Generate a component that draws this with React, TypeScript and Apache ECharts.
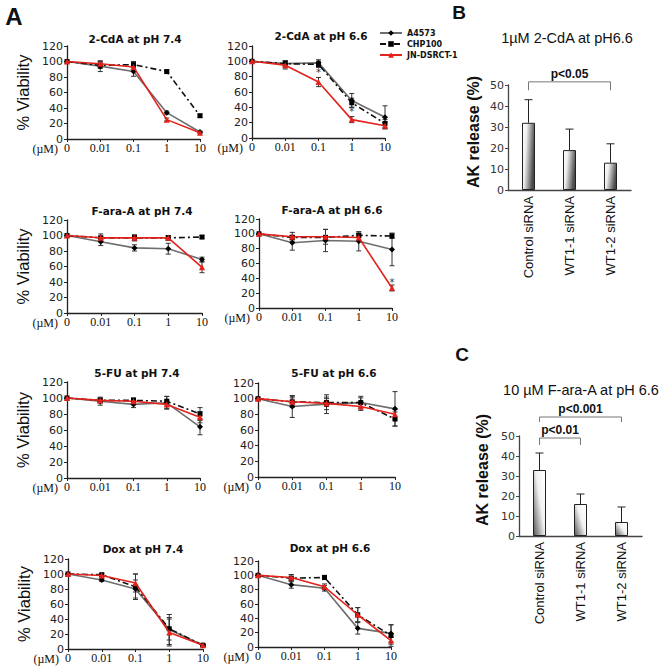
import React, { useEffect, useRef } from 'react';
import * as echarts from 'echarts';

// ---------- data ----------
const doses = ['0', '0.01', '0.1', '1', '10'];
const cellLines = ['A4573', 'CHP100', 'JN-DSRCT-1'];
const panelTitles = [
  '2-CdA at pH 7.4', '2-CdA at pH 6.6',
  'F-ara-A at pH 7.4', 'F-ara-A at pH 6.6',
  '5-FU at pH 7.4', '5-FU at pH 6.6',
  'Dox at pH 7.4', 'Dox at pH 6.6',
];

// 2-CdA pH 7.4
const cda74A = [100, 94, 87, 34, 9];
const cda74AErr = [0, 7, 6, 2, 1];
const cda74C = [100, 95, 96, 87, 30];
const cda74CErr = [0, 4, 4, 2, 2];
const cda74J = [100, 97, 93, 25, 8];
const cda74JErr = [0, 3, 3, 2, 1];
// 2-CdA pH 6.6
const cda66A = [100, 97, 98, 49, 27];
const cda66AErr = [0, 4, 4, 9, 15];
const cda66C = [100, 97, 96, 46, 19];
const cda66CErr = [0, 4, 4, 6, 5];
const cda66J = [100, 95, 73, 24, 16];
const cda66JErr = [0, 5, 6, 4, 4];
const cda66Stars = [[2, 86], [3, 34]];
// F-ara-A pH 7.4
const fara74A = [100, 92, 84, 83, 69];
const fara74AErr = [0, 5, 4, 7, 3];
const fara74C = [100, 97, 97, 97, 98];
const fara74CErr = [0, 2, 3, 3, 2];
const fara74J = [100, 97, 97, 97, 59];
const fara74JErr = [0, 5, 4, 3, 7];
// F-ara-A pH 6.6
const fara66A = [100, 88, 91, 90, 79];
const fara66AErr = [0, 10, 15, 13, 22];
const fara66C = [100, 95, 95, 98, 97];
const fara66CErr = [0, 3, 3, 3, 3];
const fara66J = [100, 96, 96, 95, 27];
const fara66JErr = [0, 6, 10, 5, 4];
const fara66Stars = [[4, 35]];
// 5-FU pH 7.4
const fu74A = [100, 96, 92, 94, 64];
const fu74AErr = [0, 5, 4, 8, 10];
const fu74C = [100, 97, 97, 96, 80];
const fu74CErr = [0, 3, 3, 6, 8];
const fu74J = [100, 97, 96, 92, 76];
const fu74JErr = [0, 3, 4, 5, 7];
// 5-FU pH 6.6
const fu66A = [100, 90, 93, 95, 87];
const fu66AErr = [0, 14, 12, 8, 22];
const fu66C = [100, 96, 95, 95, 74];
const fu66CErr = [0, 5, 5, 6, 9];
const fu66J = [100, 96, 94, 90, 80];
const fu66JErr = [0, 7, 8, 5, 6];
// Dox pH 7.4
const dox74A = [100, 92, 80, 26, 5];
const dox74AErr = [0, 2, 12, 20, 1];
const dox74C = [100, 99, 83, 27, 5];
const dox74CErr = [0, 2, 17, 15, 1];
const dox74J = [100, 98, 88, 22, 5];
const dox74JErr = [0, 2, 12, 18, 1];
// Dox pH 6.6
const dox66A = [100, 87, 82, 26, 19];
const dox66AErr = [0, 5, 4, 8, 12];
const dox66C = [100, 96, 97, 45, 16];
const dox66CErr = [0, 5, 3, 10, 15];
const dox66J = [100, 97, 84, 45, 9];
const dox66JErr = [0, 4, 4, 10, 5];

const yTicksLine = { min: 0, max: 120, interval: 20 };

// Bar panels
const sirnaCats = ['Control siRNA', 'WT1-1 siRNA', 'WT1-2 siRNA'];
const titleB = '1\u00b5M 2-CdA at pH6.6';
const akB = [32, 19, 13];
const akBErr = [11, 10, 9];
const bracketsB = [[0, 2, 51.5, 47.5]];
const bracketLabelsB = ['p<0.05'];
const titleC = '10 \u00b5M F-ara-A at pH 6.6';
const akC = [33, 16, 7];
const akCErr = [8.5, 5, 7.5];
const bracketsC = [[0, 1, 49, 45.5], [0, 2, 59.5, 57]];
const bracketLabelsC = ['p<0.01', 'p<0.001'];

const panels = [
  { vals: [cda74A, cda74C, cda74J], errs: [cda74AErr, cda74CErr, cda74JErr], stars: [] },
  { vals: [cda66A, cda66C, cda66J], errs: [cda66AErr, cda66CErr, cda66JErr], stars: cda66Stars },
  { vals: [fara74A, fara74C, fara74J], errs: [fara74AErr, fara74CErr, fara74JErr], stars: [] },
  { vals: [fara66A, fara66C, fara66J], errs: [fara66AErr, fara66CErr, fara66JErr], stars: fara66Stars },
  { vals: [fu74A, fu74C, fu74J], errs: [fu74AErr, fu74CErr, fu74JErr], stars: [] },
  { vals: [fu66A, fu66C, fu66J], errs: [fu66AErr, fu66CErr, fu66JErr], stars: [] },
  { vals: [dox74A, dox74C, dox74J], errs: [dox74AErr, dox74CErr, dox74JErr], stars: [] },
  { vals: [dox66A, dox66C, dox66J], errs: [dox66AErr, dox66CErr, dox66JErr], stars: [] },
];

// ---------- layout ----------
const GRIDS = [
  { left: 67, top: 46, width: 133, height: 93 },
  { left: 252, top: 46, width: 133, height: 92 },
  { left: 67, top: 220, width: 135, height: 93 },
  { left: 259, top: 219, width: 133, height: 89 },
  { left: 67, top: 382, width: 133, height: 96 },
  { left: 258, top: 383, width: 137, height: 94 },
  { left: 68, top: 559, width: 135, height: 90 },
  { left: 258, top: 561, width: 133, height: 86 },
];
const TITLE_POS = [
  [135, 39], [321, 36], [142, 211], [332, 210],
  [137, 373], [334, 373], [143, 549], [330, 548],
];
const GRID_B = { left: 508, top: 85, width: 123, height: 105 };
const GRID_C = { left: 519, top: 436, width: 123, height: 100 };

const STYLES = [
  { symbol: 'diamond', symbolSize: 6, color: '#000', line: '#6e6e6e', type: 'solid' as any },
  { symbol: 'rect', symbolSize: 5, color: '#000', line: '#111', type: [6, 3, 2, 3] as any },
  { symbol: 'triangle', symbolSize: 6, color: '#e3221b', line: '#e3221b', type: 'solid' as any },
];

const SANS = 'DejaVu Sans';
const ARIAL = 'Liberation Sans';
const SERIF = 'Liberation Serif';

const errRender = (params: any, api: any) => {
  const x = api.value(0);
  const lo = api.value(1);
  const hi = api.value(2);
  if (hi - lo < 0.5) return { type: 'group', children: [] };
  const p1 = api.coord([x, lo]);
  const p2 = api.coord([x, hi]);
  const c = 2.5;
  const st = { stroke: '#333', lineWidth: 1 };
  return {
    type: 'group',
    children: [
      { type: 'line', shape: { x1: p1[0], y1: p1[1], x2: p2[0], y2: p2[1] }, style: st },
      { type: 'line', shape: { x1: p1[0] - c, y1: p1[1], x2: p1[0] + c, y2: p1[1] }, style: st },
      { type: 'line', shape: { x1: p2[0] - c, y1: p2[1], x2: p2[0] + c, y2: p2[1] }, style: st },
    ],
  };
};

const barErrRender = (params: any, api: any) => {
  const x = api.value(0);
  const p1 = api.coord([x, api.value(1)]);
  const p2 = api.coord([x, api.value(2)]);
  const c = 4;
  const st = { stroke: '#222', lineWidth: 1 };
  return {
    type: 'group',
    children: [
      { type: 'line', shape: { x1: p1[0], y1: p1[1], x2: p2[0], y2: p2[1] }, style: st },
      { type: 'line', shape: { x1: p2[0] - c, y1: p2[1], x2: p2[0] + c, y2: p2[1] }, style: st },
    ],
  };
};

const makeBracketRender = (labels: string[]) => (params: any, api: any) => {
  const a = api.coord([api.value(0), api.value(2)]);
  const b = api.coord([api.value(1), api.value(2)]);
  const t = api.coord([api.value(0), api.value(3)]);
  const drop = t[1] - a[1];
  const st = { stroke: '#777', lineWidth: 1 };
  return {
    type: 'group',
    children: [
      { type: 'line', shape: { x1: a[0], y1: a[1], x2: b[0], y2: b[1] }, style: st },
      { type: 'line', shape: { x1: a[0], y1: a[1], x2: a[0], y2: a[1] + drop }, style: st },
      { type: 'line', shape: { x1: b[0], y1: b[1], x2: b[0], y2: b[1] + drop }, style: st },
      {
        type: 'text',
        x: (a[0] + b[0]) / 2,
        y: a[1] - 2,
        style: {
          text: labels[params.dataIndex], fontFamily: ARIAL, fontWeight: 'bold', fontSize: 12,
          fill: '#111', align: 'center', verticalAlign: 'bottom', textAlign: 'center', textVerticalAlign: 'bottom',
        },
      },
    ],
  };
};

const starRender = (params: any, api: any) => {
  const p = api.coord([api.value(0), api.value(1)]);
  return {
    type: 'text',
    x: p[0],
    y: p[1],
    style: {
      text: '*', fontFamily: SANS, fontSize: 10, fill: '#333',
      align: 'center', verticalAlign: 'middle', textAlign: 'center', textVerticalAlign: 'middle',
    },
  };
};

function txt(text: string, x: number, y: number, size: number, opts: any = {}) {
  return {
    type: 'text',
    x, y,
    rotation: opts.rotation || 0,
    style: {
      text,
      fontSize: size,
      fontFamily: opts.family || SANS,
      fontWeight: opts.weight || 'normal',
      fill: opts.color || '#111',
      align: opts.align || 'center',
      verticalAlign: 'middle',
      textAlign: opts.align || 'center',
      textVerticalAlign: 'middle',
    },
  };
}

function buildOption() {
  const grid: any[] = [];
  const xAxis: any[] = [];
  const yAxis: any[] = [];
  const series: any[] = [];
  const graphic: any[] = [];

  panels.forEach((p, i) => {
    const g = GRIDS[i];
    grid.push({ ...g, containLabel: false });
    xAxis.push({
      type: 'category', gridIndex: i, data: doses, boundaryGap: false,
      axisLine: { lineStyle: { color: '#222', width: 1.3 } },
      axisTick: { show: true, length: 3, lineStyle: { color: '#222' } },
      axisLabel: { fontFamily: SERIF, fontSize: 12, color: '#111', margin: 3, interval: 0 },
      splitLine: { show: false },
    });
    yAxis.push({
      type: 'value', gridIndex: i, ...yTicksLine,
      name: i % 2 === 0 ? '% Viability' : '',
      nameLocation: 'middle', nameGap: 36, nameRotate: 90,
      nameTextStyle: { fontFamily: ARIAL, fontSize: 16.5, color: '#111' },
      axisLine: { show: true, lineStyle: { color: '#222', width: 1.3 } },
      axisTick: { show: true, length: 3, lineStyle: { color: '#222' } },
      axisLabel: { fontFamily: SANS, fontSize: 11, color: '#222', margin: 4 },
      splitLine: { show: false },
    });
    p.vals.forEach((vals, k) => {
      const s = STYLES[k];
      series.push({
        type: 'line', name: cellLines[k], xAxisIndex: i, yAxisIndex: i, data: vals,
        symbol: s.symbol, symbolSize: s.symbolSize,
        itemStyle: { color: s.color },
        lineStyle: { color: s.line, width: 1.6, type: s.type },
        z: 3 + (k === 2 ? 1 : 0),
      });
      series.push({
        type: 'custom', name: 'err', xAxisIndex: i, yAxisIndex: i,
        data: vals.map((v, j) => [j, v - p.errs[k][j], v + p.errs[k][j]]),
        encode: { x: 0, y: [1, 2] }, renderItem: errRender, z: 2, silent: true,
      });
    });
    if (p.stars.length) {
      series.push({
        type: 'custom', name: 'stars', xAxisIndex: i, yAxisIndex: i,
        data: p.stars, encode: { x: 0, y: 1 }, renderItem: starRender, z: 5, silent: true,
      });
    }
    graphic.push(txt(panelTitles[i], TITLE_POS[i][0], TITLE_POS[i][1], 10.5, { weight: 'bold' }));
    graphic.push(txt('(\u00b5M)', g.left - 9, g.top + g.height + 10, 12, { family: SERIF, align: 'right' }));
  });

  const addBar = (idx: number, g: any, vals: number[], errs: number[], brackets: number[][], labels: string[], grad: any) => {
    grid.push({ ...g, containLabel: false });
    xAxis.push({
      type: 'category', gridIndex: idx, data: sirnaCats,
      axisLine: { lineStyle: { color: '#444', width: 1.3 } },
      axisTick: { show: false },
      axisLabel: { rotate: 90, fontFamily: ARIAL, fontSize: 13, color: '#111', margin: 6, interval: 0 },
    });
    yAxis.push({
      type: 'value', gridIndex: idx, min: 0, max: 50, interval: 10,
      axisLine: { show: true, lineStyle: { color: '#444', width: 1.3 } },
      axisTick: { show: true, length: 3, lineStyle: { color: '#444' } },
      axisLabel: { fontFamily: SANS, fontSize: 11, color: '#333', margin: 4 },
      splitLine: { show: false },
    });
    series.push({
      type: 'bar', name: 'ak', xAxisIndex: idx, yAxisIndex: idx, data: vals, barWidth: 13,
      itemStyle: { color: grad, borderColor: '#222', borderWidth: 1 },
    });
    series.push({
      type: 'custom', name: 'akerr', xAxisIndex: idx, yAxisIndex: idx,
      data: vals.map((v, j) => [j, v, v + errs[j]]), encode: { x: 0, y: [1, 2] },
      renderItem: barErrRender, z: 1, silent: true,
    });
    series.push({
      type: 'custom', name: 'brackets', xAxisIndex: idx, yAxisIndex: idx,
      data: brackets, encode: { x: [0, 1], y: [2, 3] }, renderItem: makeBracketRender(labels),
      clip: false, silent: true, z: 5,
    });
  };

  const gradB = new echarts.graphic.LinearGradient(0, 0, 1, 0.3, [
    { offset: 0, color: '#ffffff' }, { offset: 0.35, color: '#eeeeee' }, { offset: 1, color: '#4a4a4a' },
  ]);
  const gradC = new echarts.graphic.LinearGradient(0, 1, 1, 0.2, [
    { offset: 0, color: '#555555' }, { offset: 0.6, color: '#f2f2f2' }, { offset: 1, color: '#ffffff' },
  ]);
  addBar(8, GRID_B, akB, akBErr, bracketsB, bracketLabelsB, gradB);
  addBar(9, GRID_C, akC, akCErr, bracketsC, bracketLabelsC, gradC);

  graphic.push(txt(titleB, 567, 38, 14.5, { family: ARIAL }));
  graphic.push(txt(titleC, 581, 390, 14.5, { family: ARIAL }));
  graphic.push(txt('AK release (%)', 473, 132, 16, { family: ARIAL, weight: 'bold', rotation: Math.PI / 2 }));
  graphic.push(txt('AK release (%)', 482, 470, 16, { family: ARIAL, weight: 'bold', rotation: Math.PI / 2 }));
  graphic.push(txt('A', 14, 16, 24, { family: ARIAL, weight: 'bold' }));
  graphic.push(txt('B', 459, 12, 19, { family: ARIAL, weight: 'bold' }));
  graphic.push(txt('C', 462, 354, 19, { family: ARIAL, weight: 'bold' }));

  return {
    animation: false,
    backgroundColor: '#ffffff',
    grid, xAxis, yAxis, series, graphic,
    legend: {
      data: cellLines, orient: 'vertical', left: 379, top: 29, padding: 0,
      itemWidth: 22, itemHeight: 7, itemGap: 3, selectedMode: false,
      textStyle: { fontFamily: SANS, fontWeight: 'bold', fontSize: 8, color: '#111' },
    },
  };
}

export default function App() {
  const ref = useRef<HTMLDivElement>(null);
  useEffect(() => {
    if (!ref.current) return;
    const chart = echarts.init(ref.current, undefined, { renderer: 'svg' });
    chart.setOption(buildOption() as any);
    return () => chart.dispose();
  }, []);
  return (
    <div
      ref={ref}
      style={{ position: 'absolute', left: 0, top: 0, width: 661, height: 672, background: '#fff' }}
    />
  );
}
